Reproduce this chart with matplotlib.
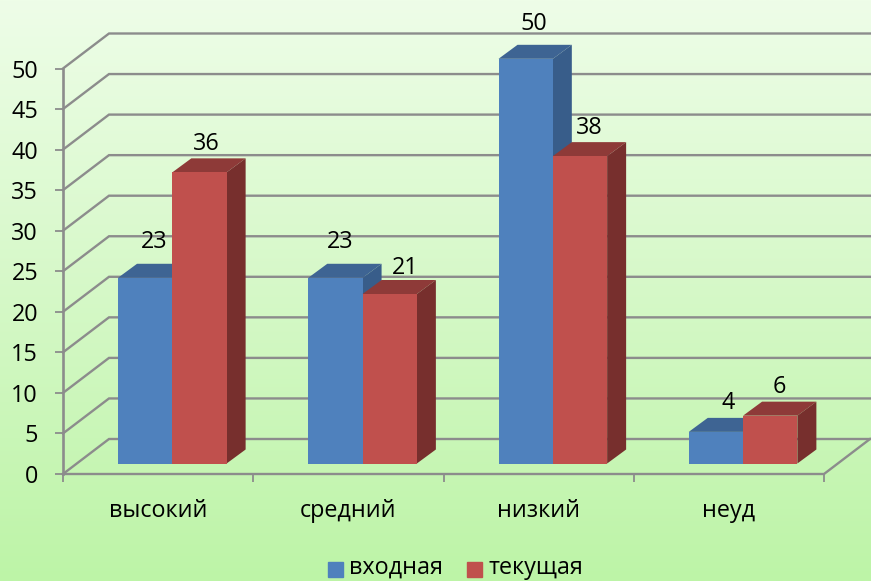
import numpy as np
import matplotlib
matplotlib.use("Agg")
import matplotlib.pyplot as plt

categories = ["высокий", "средний", "низкий", "неуд"]
series_names = ["входная", "текущая"]
vhodnaya = [23, 23, 50, 4]
tekushchaya = [36, 21, 38, 6]
y_ticks = [0, 5, 10, 15, 20, 25, 30, 35, 40, 45, 50]

W, H = 871, 581
FS = 16.8
plt.rcParams["font.family"] = ["Open Sans", "DejaVu Sans"]

fig = plt.figure(figsize=(W / 100, H / 100), dpi=100)

# фон - вертикальный градиент
bg = fig.add_axes([0, 0, 1, 1], zorder=0)
c_top = np.array([238, 253, 232]) / 255
c_bot = np.array([189, 244, 167]) / 255
t = np.linspace(0, 1, 256)[:, None, None]
bg.imshow(c_top * (1 - t) + c_bot * t, aspect="auto", extent=(0, 1, 0, 1))
bg.axis("off")

# передняя плоскость осей: x 63..824, y 474..68.5 (пиксели)
ax = fig.add_axes([63 / W, 1 - 474 / H, (824 - 63) / W, (474 - 68.5) / H], zorder=1)
ax.set_xlim(0, 4)
ax.set_ylim(0, 50)
ax.patch.set_alpha(0)
for s in ax.spines.values():
    s.set_visible(False)

px = 4 / (824 - 63)      # один пиксель по x в единицах категории
py = 50 / (474 - 68.5)   # один пиксель по y в единицах значения
wall_dx, wall_dy = 46 * px, 35 * py
bar_dx, bar_dy = 19 * px, 14 * py
off_dx, off_dy = 14.2 * px, 10.5 * py
bar_w = 54.3 * px
grid = "#8C8C8C"
lw = 1.7

# сетка
for v in y_ticks:
    ax.plot([0, wall_dx, 4 + wall_dx], [v, v + wall_dy, v + wall_dy], color=grid, lw=lw,
            clip_on=False, zorder=1, solid_joinstyle="miter")
ax.plot([0, 4, 4 + wall_dx], [0, 0, wall_dy], color=grid, lw=lw, clip_on=False, zorder=1)
ax.plot([0, 0], [0, 50], color=grid, lw=1.9, clip_on=False, zorder=1.5)

# оси
ax.set_xticks(range(5))
ax.set_xticklabels([])
ax.set_yticks(y_ticks)
ax.tick_params(axis="both", color=grid, width=1.3, length=6)
ax.tick_params(axis="y", labelsize=FS, pad=12, labelcolor="black")
for i, name in enumerate(categories):
    ax.text(i + 0.5, -37 * py, name, ha="center", va="center", fontsize=FS, color="black")

colors = [("#4F81BD", "#3E6493", "#385D8A"), ("#C0504D", "#8E3A38", "#772F2D")]
# сдвиги подписей в пикселях (dx, dy от середины верха столбца)
label_shift = [[(9, 35), (5, 35), (8, 34), (12, 28)], [(7, 28), (15, 25), (9, 27), (9, 28)]]


def bar3d(x0, v, cols, z):
    x1 = x0 + bar_w
    x0, x1 = x0 + off_dx, x1 + off_dx
    b = off_dy
    # значение отсчитывается от основания столбца
    top = v + off_dy - 0.1
    ax.fill([x0, x1, x1, x0], [b, b, top, top], color=cols[0], lw=0, clip_on=False, zorder=z + 0.2)
    ax.fill([x0, x1, x1 + bar_dx, x0 + bar_dx], [top, top, top + bar_dy, top + bar_dy],
            color=cols[1], lw=0, clip_on=False, zorder=z)
    ax.fill([x1, x1 + bar_dx, x1 + bar_dx, x1], [b, b + bar_dy, top + bar_dy, top],
            color=cols[2], lw=0, clip_on=False, zorder=z + 0.1)


for s, vals in enumerate([vhodnaya, tekushchaya]):
    for i, v in enumerate(vals):
        x0 = i + 0.5 - bar_w + s * bar_w
        bar3d(x0, v, colors[s], 3 + i + s * 0.5)
        sx, sy = label_shift[s][i]
        ax.text(x0 + off_dx + bar_w / 2 + sx * px, v + off_dy + sy * py, str(v),
                ha="center", va="center", fontsize=FS, color="black", zorder=20, clip_on=False)

# легенда
leg_x = [328, 467]
for s, name in enumerate(series_names):
    fig.patches.append(plt.Rectangle((leg_x[s] / W, 1 - 577 / H), 15 / W, 15 / H,
                                     transform=fig.transFigure, color=colors[s][0], zorder=5))
    fig.text((leg_x[s] + 21) / W, 1 - 568 / H, name, fontsize=FS, va="center", ha="left",
             color="black", zorder=5)

fig.savefig("out.png", dpi=100)
